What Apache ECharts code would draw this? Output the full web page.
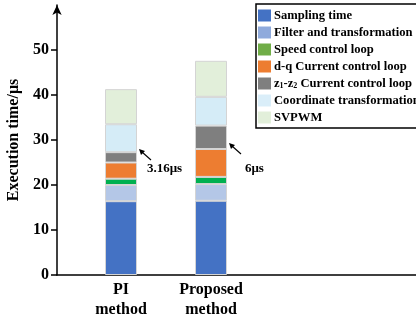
<!DOCTYPE html>
<html><head><meta charset="utf-8">
<script src="https://cdn.jsdelivr.net/npm/echarts@6/dist/echarts.min.js"></script>
<style>html,body{margin:0;padding:0;background:#fff}#c{width:416px;height:324px}</style>
</head><body><div id="c"></div>
<script>
const categories = ['PI\nmethod', 'Proposed\nmethod'];
const seriesNames = ['Sampling time', 'Filter and transformation', 'Speed control loop', 'd-q Current control loop', 'z1-z2 Current control loop', 'Coordinate transformation', 'SVPWM'];
const sampling = [16.4, 16.5];
const filterT = [3.6, 3.7];
const speed = [1.4, 1.6];
const dq = [3.6, 6.2];
const z1z2 = [2.3, 5.2];
const coord = [6.2, 6.4];
const svpwm = [7.8, 8.0];
const yTicks = [0, 10, 20, 30, 40, 50];
const annotations = ['3.16μs', '6μs'];

const values = [sampling, filterT, speed, dq, z1z2, coord, svpwm];
const barColors = ['#4472C4', '#B4C7E7', '#00B050', '#ED7D31', '#7F7F7F', '#D5ECF7', '#E2EFDA'];
const legendColors = ['#4472C4', '#8FAADC', '#70AD47', '#ED7D31', '#7F7F7F', '#DAEEF9', '#E2EFDA'];
const font = '"Liberation Serif", "Times New Roman", serif';

const chart = echarts.init(document.getElementById('c'));
const series = seriesNames.map((n, i) => ({
  name: n, type: 'bar', stack: 'total', xAxisIndex: 0, yAxisIndex: 0,
  barWidth: 32, data: values[i],
  itemStyle: {color: barColors[i], borderColor: '#d4d4d4', borderWidth: 1}
}));
series.push({type: 'line', xAxisIndex: 1, yAxisIndex: 1, data: [], silent: true});
chart.setOption({
  animation: false,
  grid: [
    {left: 76, top: 5, width: 360, height: 270, outerBoundsMode: 'none', containLabel: false},
    {left: 57, top: 5, right: 0, height: 270, outerBoundsMode: 'none', containLabel: false}
  ],
  legend: {
    orient: 'vertical', left: 256, top: 4,
    padding: [5, 40, 4, 2],
    itemWidth: 13, itemHeight: 12, itemGap: 4,
    borderColor: '#000', borderWidth: 1.5,
    icon: 'rect',
    data: seriesNames.map((n, i) => ({name: n, itemStyle: {color: legendColors[i], borderWidth: 0}})),
    formatter: function (name) {
      if (name.indexOf('z1-z2') === 0) return 'z{sub|1}-z{sub|2}' + name.slice(5);
      return name;
    },
    textStyle: {
      fontFamily: font, fontWeight: 'bold', fontSize: 12.6, lineHeight: 13, color: '#000', padding: [0, 0, 0, -2],
      rich: {sub: {fontFamily: font, fontWeight: 'bold', fontSize: 8, lineHeight: 13, verticalAlign: 'bottom', padding: [4, 0, 0, 0], color: '#000'}}
    }
  },
  xAxis: [
    {
      type: 'category', gridIndex: 0, data: categories.concat(['', '']),
      axisLine: {show: false},
      axisTick: {show: false},
      axisLabel: {fontFamily: font, fontWeight: 'bold', fontSize: 16, color: '#000', lineHeight: 20, margin: 5, interval: 0}
    },
    {
      type: 'value', gridIndex: 1, min: 0, max: 1, position: 'bottom',
      axisLine: {show: true, onZero: false, lineStyle: {color: '#000', width: 1.5}},
      axisTick: {show: false}, axisLabel: {show: false}, splitLine: {show: false}
    }
  ],
  yAxis: [
    {
      type: 'value', gridIndex: 0, min: 0, max: 60, interval: 10, offset: 19,
      axisLine: {show: true, symbol: ['none', 'arrow'], symbolSize: [7, 10], lineStyle: {color: '#000', width: 1.5}},
      axisTick: {show: true, length: 6, customValues: yTicks, lineStyle: {color: '#000', width: 1.5}},
      axisLabel: {customValues: yTicks, fontFamily: font, fontWeight: 'bold', fontSize: 16, color: '#000', margin: 8},
      splitLine: {show: false},
      name: 'Execution time/μs', nameLocation: 'middle', nameGap: 29,
      nameTextStyle: {fontFamily: font, fontWeight: 'bold', fontSize: 16, color: '#000'}
    },
    {type: 'value', gridIndex: 1, min: 0, max: 1, show: false}
  ],
  series: series,
  graphic: [
    {type: 'line', shape: {x1: 151, y1: 160, x2: 142, y2: 152}, style: {stroke: '#000', lineWidth: 1.1}},
    {type: 'polygon', shape: {points: [[139, 149], [145, 151], [141, 155]]}, style: {fill: '#000'}},
    {type: 'text', left: 147, top: 162, style: {text: annotations[0], font: 'bold 13px ' + font, fill: '#000'}},
    {type: 'line', shape: {x1: 241, y1: 154, x2: 232, y2: 146}, style: {stroke: '#000', lineWidth: 1.1}},
    {type: 'polygon', shape: {points: [[229, 143], [235, 145], [231, 149]]}, style: {fill: '#000'}},
    {type: 'text', left: 245, top: 162, style: {text: annotations[1], font: 'bold 13px ' + font, fill: '#000'}}
  ]
});
</script></body></html>
